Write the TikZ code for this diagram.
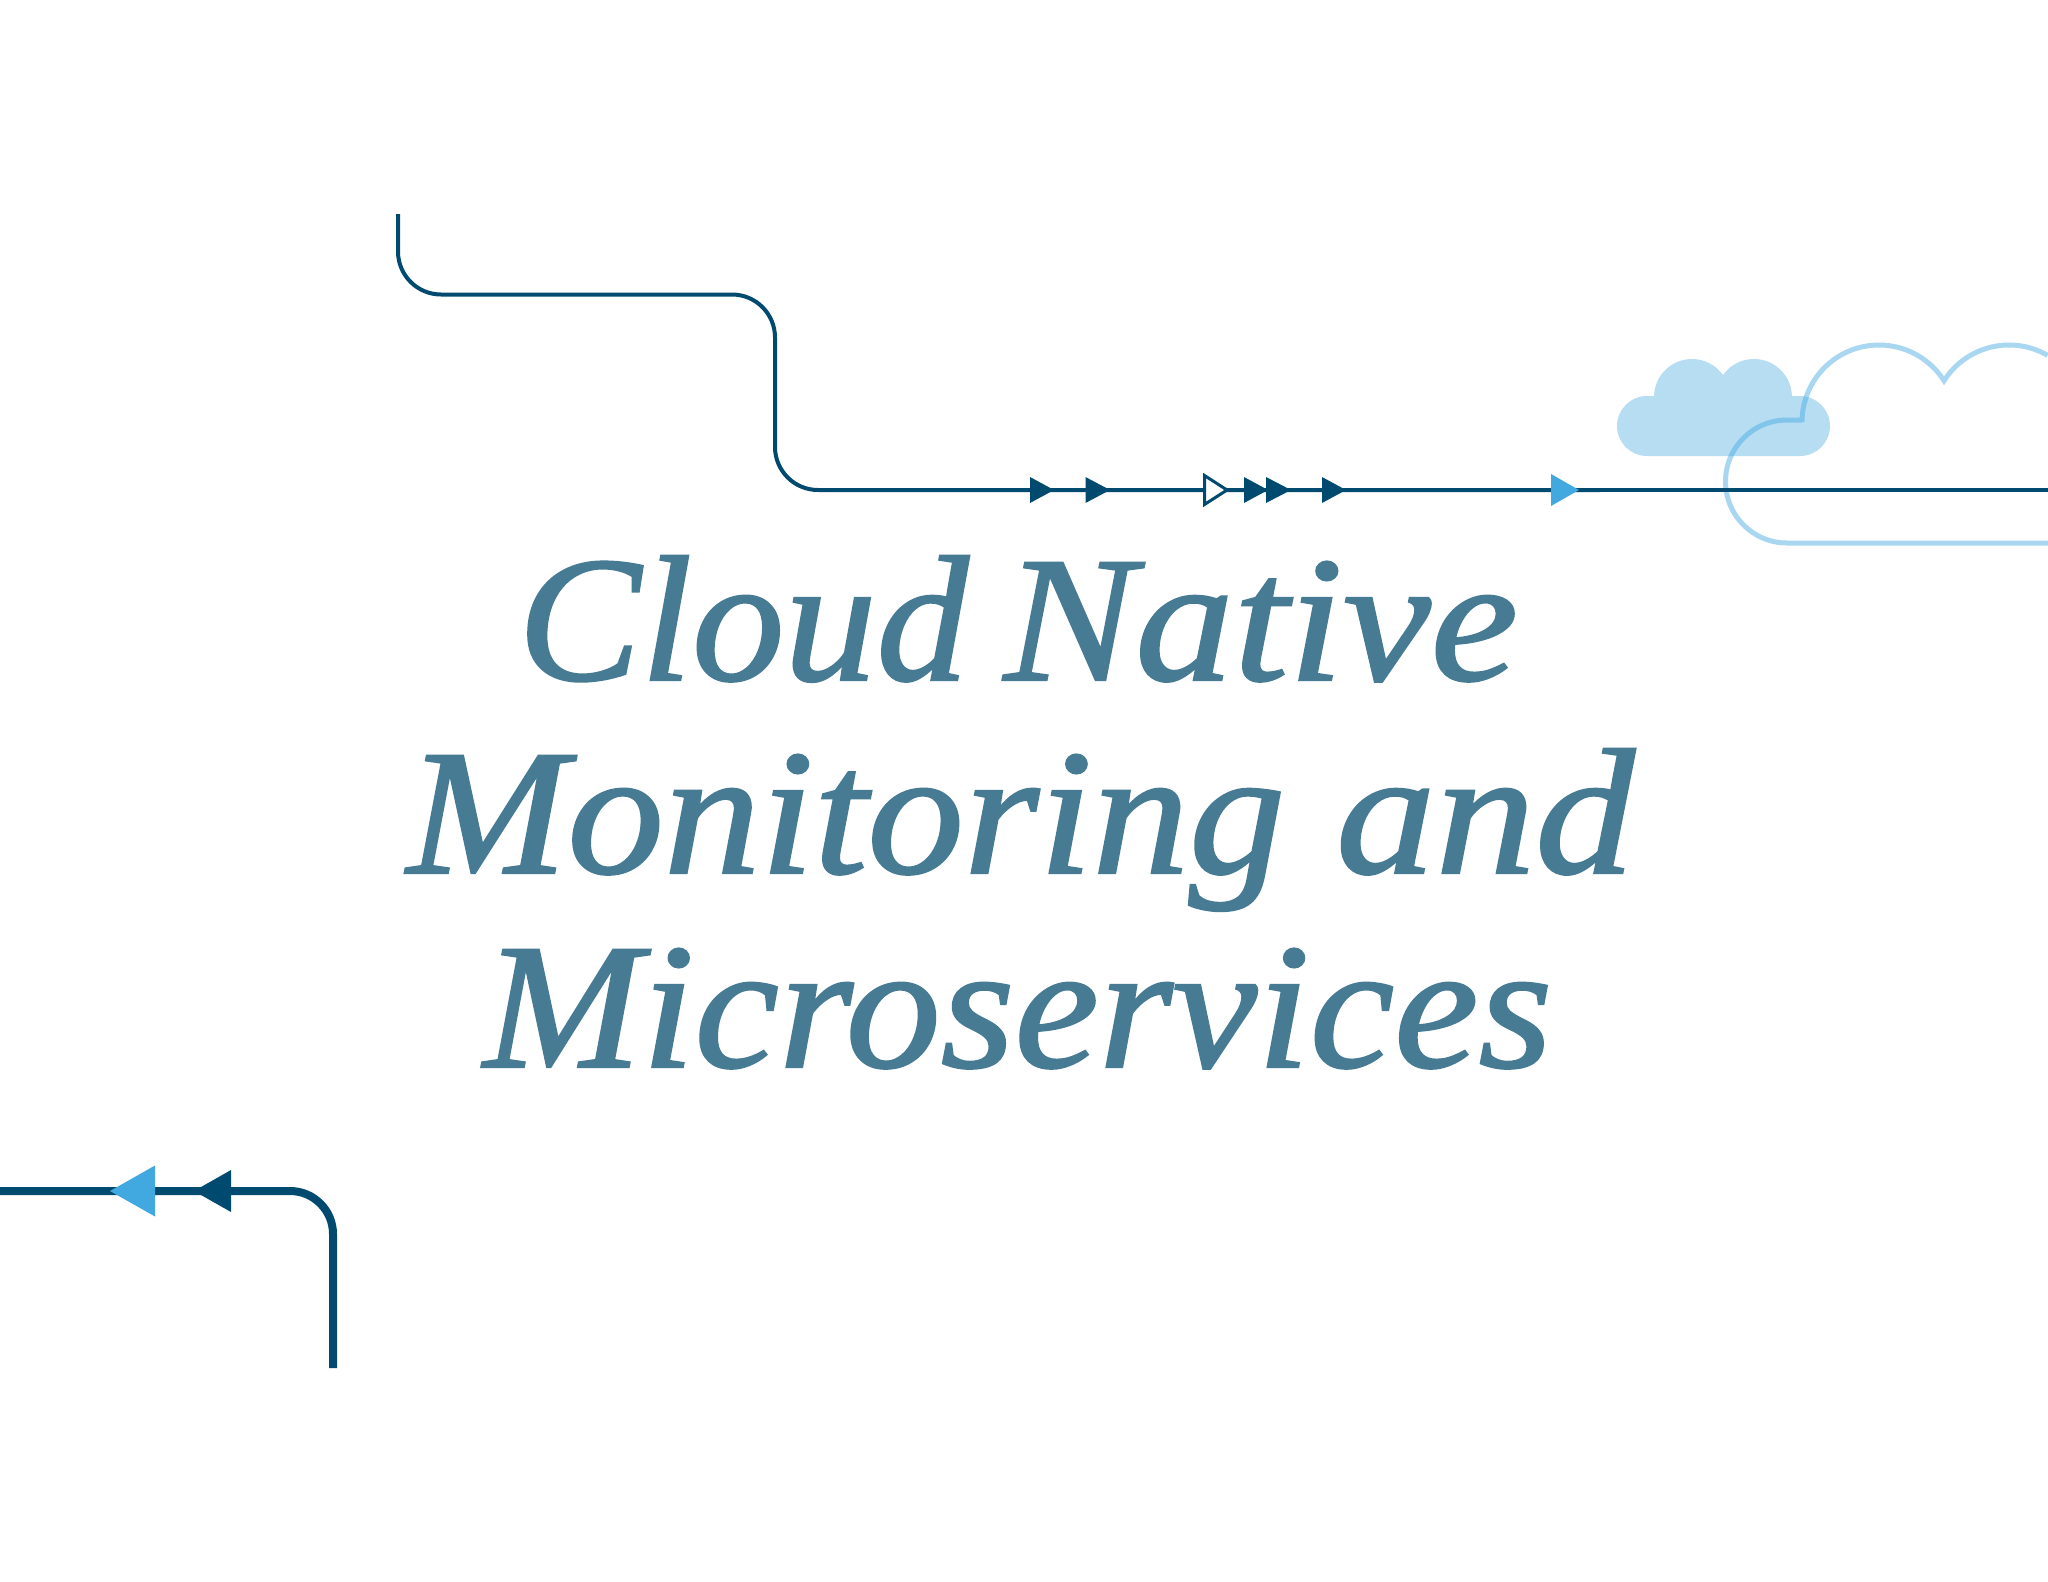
\documentclass[tikz,border=0pt]{standalone}
\usepackage{fontspec}
\setmainfont{Liberation Serif}
\newfontfamily\titlefont[Ligatures=TeX,FakeBold=1.2]{Liberation Serif Italic}
\definecolor{navy}{HTML}{004A70}
\definecolor{sky}{HTML}{42A8E0}
\definecolor{titlecol}{HTML}{467B93}
\tikzset{
  wire/.style={draw=navy,line width=#1,line join=round},
  titleline/.style={inner sep=0pt,outer sep=0pt,anchor=base west,text=titlecol,font=\titlefont\fontsize{179}{190}\selectfont},
  solidtri/.style={fill=navy},
  blue tri/.style={fill=sky},
  open tri/.style={fill=white,draw=navy,line width=3pt,line join=miter},
  cloudfill/.style={fill=sky,fill opacity=.38},
  cloudline/.style={draw=sky,draw opacity=.45,line width=5pt,line join=miter,miter limit=10}
}
\newcommand{\rtri}[5][solidtri]{\path[#1] (#2,#4-#5) -- (#3,#4) -- (#2,#4+#5) -- cycle;}
\begin{document}
\begin{tikzpicture}[x=1pt,y=-1pt]
\useasboundingbox (0,0) rectangle (2048,1582);
\fill[white] (0,0) rectangle (2048,1582);
% small cloud
\path[cloudfill] (1647,456) arc (90:270:30) -- (1654,396) -- (1654,397) arc (180:324.6:38) arc (215.4:360:38) -- (1792,396) -- (1800,396) arc (270:450:30) -- cycle;
% large cloud
\path[cloudline] (2048,543) -- (1787,543) arc (90:270:61.5) -- (1802,420) -- (1802,422) arc (180:327.6:77) arc (212.4:300:77);
% top wire
\draw[wire=4pt,rounded corners=43pt] (398,214) -- (398,294.5) -- (775,294.5) -- (775,490) -- (1600,490);
\draw[wire=4pt] (1580,490) -- (2048,490);
\rtri{1030}{1054}{490}{13}
\rtri{1085.5}{1110}{490}{13}
\rtri[open tri]{1204.5}{1227}{490}{14.5}
\rtri{1244}{1268}{490}{13}
\rtri{1266}{1291}{490}{13}
\rtri{1322}{1346}{490}{13}
\rtri[blue tri]{1551}{1579}{490}{16}
% bottom wire
\draw[wire=8pt,rounded corners=43pt] (0,1191) -- (333,1191) -- (333,1368);
\rtri{231}{194}{1191}{21}
\rtri[blue tri]{155}{110}{1191}{25.5}
% title
\node[titleline] (l1a) at (518,680) {\scalebox{1.03}[1]{Cloud}};
\node[titleline] (l1b) at (1004,680) {\scalebox{1.10}[1]{Native}};
\node[titleline] (l2a) at (407,873) {\scalebox{1.077}[1]{Monitoring}};
\node[titleline] (l2b) at (1336,873) {\scalebox{1.113}[1]{and}};
\node[titleline] (l3) at (483.6,1067) {\scalebox{1.061}[1]{Microservices}};
\end{tikzpicture}
\end{document}
